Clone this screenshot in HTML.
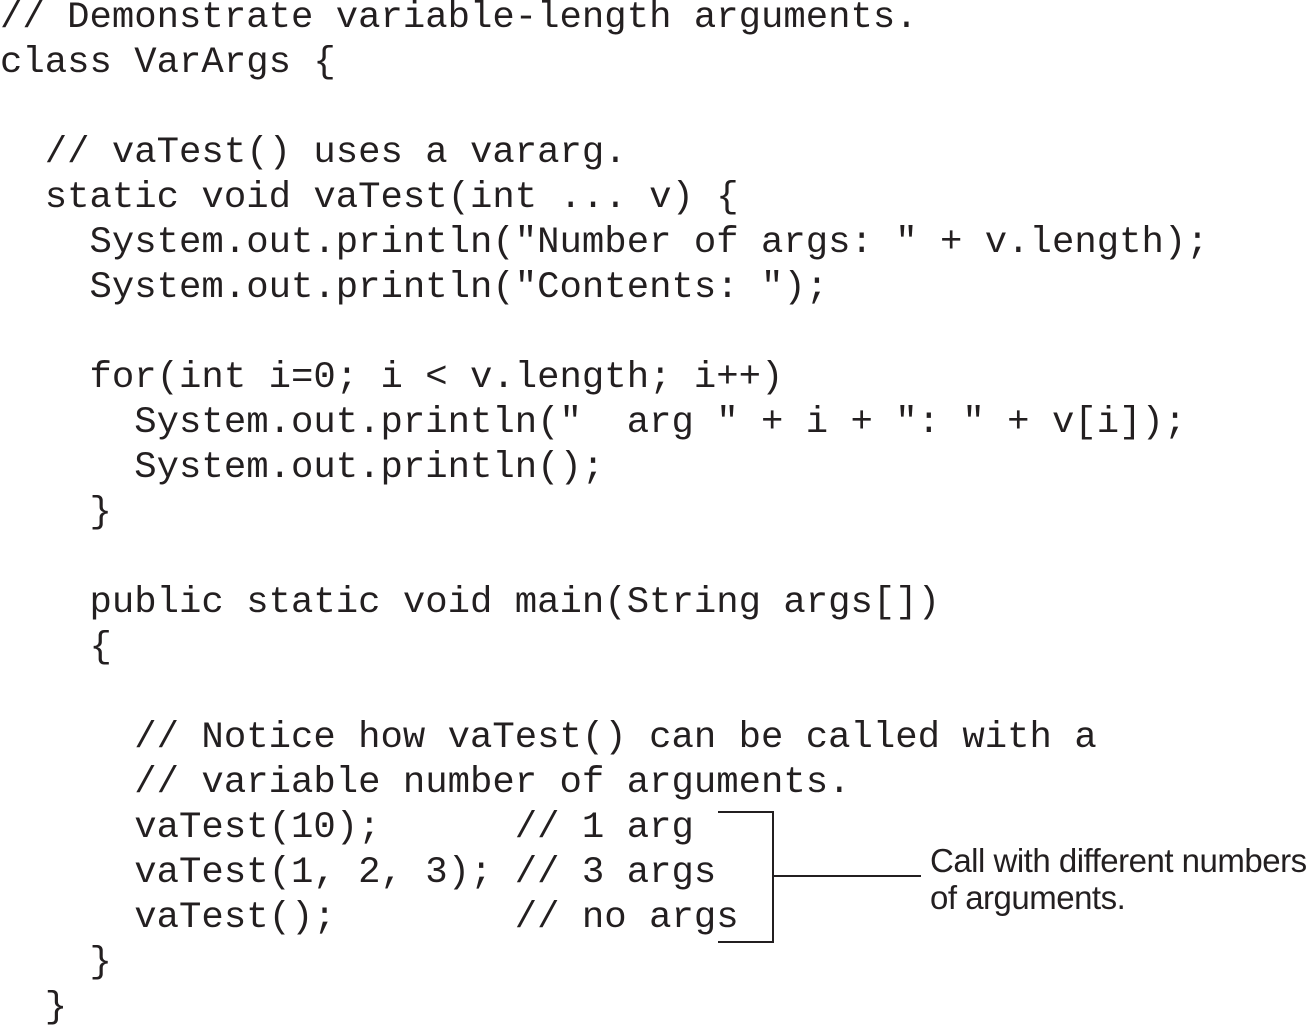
<!DOCTYPE html>
<html><head><meta charset="utf-8"><style>
html,body{margin:0;padding:0;background:#fff;width:1307px;height:1025px;overflow:hidden;position:relative}
pre{position:absolute;left:0;top:-4px;margin:0;font-family:"Liberation Mono",monospace;font-size:37.3px;line-height:45px;color:#231f20;}
.l{position:absolute;background:#231f20}
.t{position:absolute;left:930px;font-family:"Liberation Sans",sans-serif;font-size:33px;color:#231f20;white-space:nowrap;letter-spacing:-0.5px}
</style></head><body>
<pre>// Demonstrate variable-length arguments.
class VarArgs {

  // vaTest() uses a vararg.
  static void vaTest(int ... v) {
    System.out.println("Number of args: " + v.length);
    System.out.println("Contents: ");

    for(int i=0; i &lt; v.length; i++)
      System.out.println("  arg " + i + ": " + v[i]);
      System.out.println();
    }

    public static void main(String args[])
    {

      // Notice how vaTest() can be called with a
      // variable number of arguments.
      vaTest(10);      // 1 arg
      vaTest(1, 2, 3); // 3 args
      vaTest();        // no args
    }
  }</pre>
<div class="l" style="left:718px;top:811px;width:56px;height:2px"></div>
<div class="l" style="left:772px;top:811px;width:2px;height:132px"></div>
<div class="l" style="left:718px;top:941px;width:56px;height:2px"></div>
<div class="l" style="left:774px;top:875px;width:147px;height:2px"></div>
<div class="t" style="top:842px">Call with different numbers</div>
<div class="t" style="top:879px">of arguments.</div>
</body></html>
